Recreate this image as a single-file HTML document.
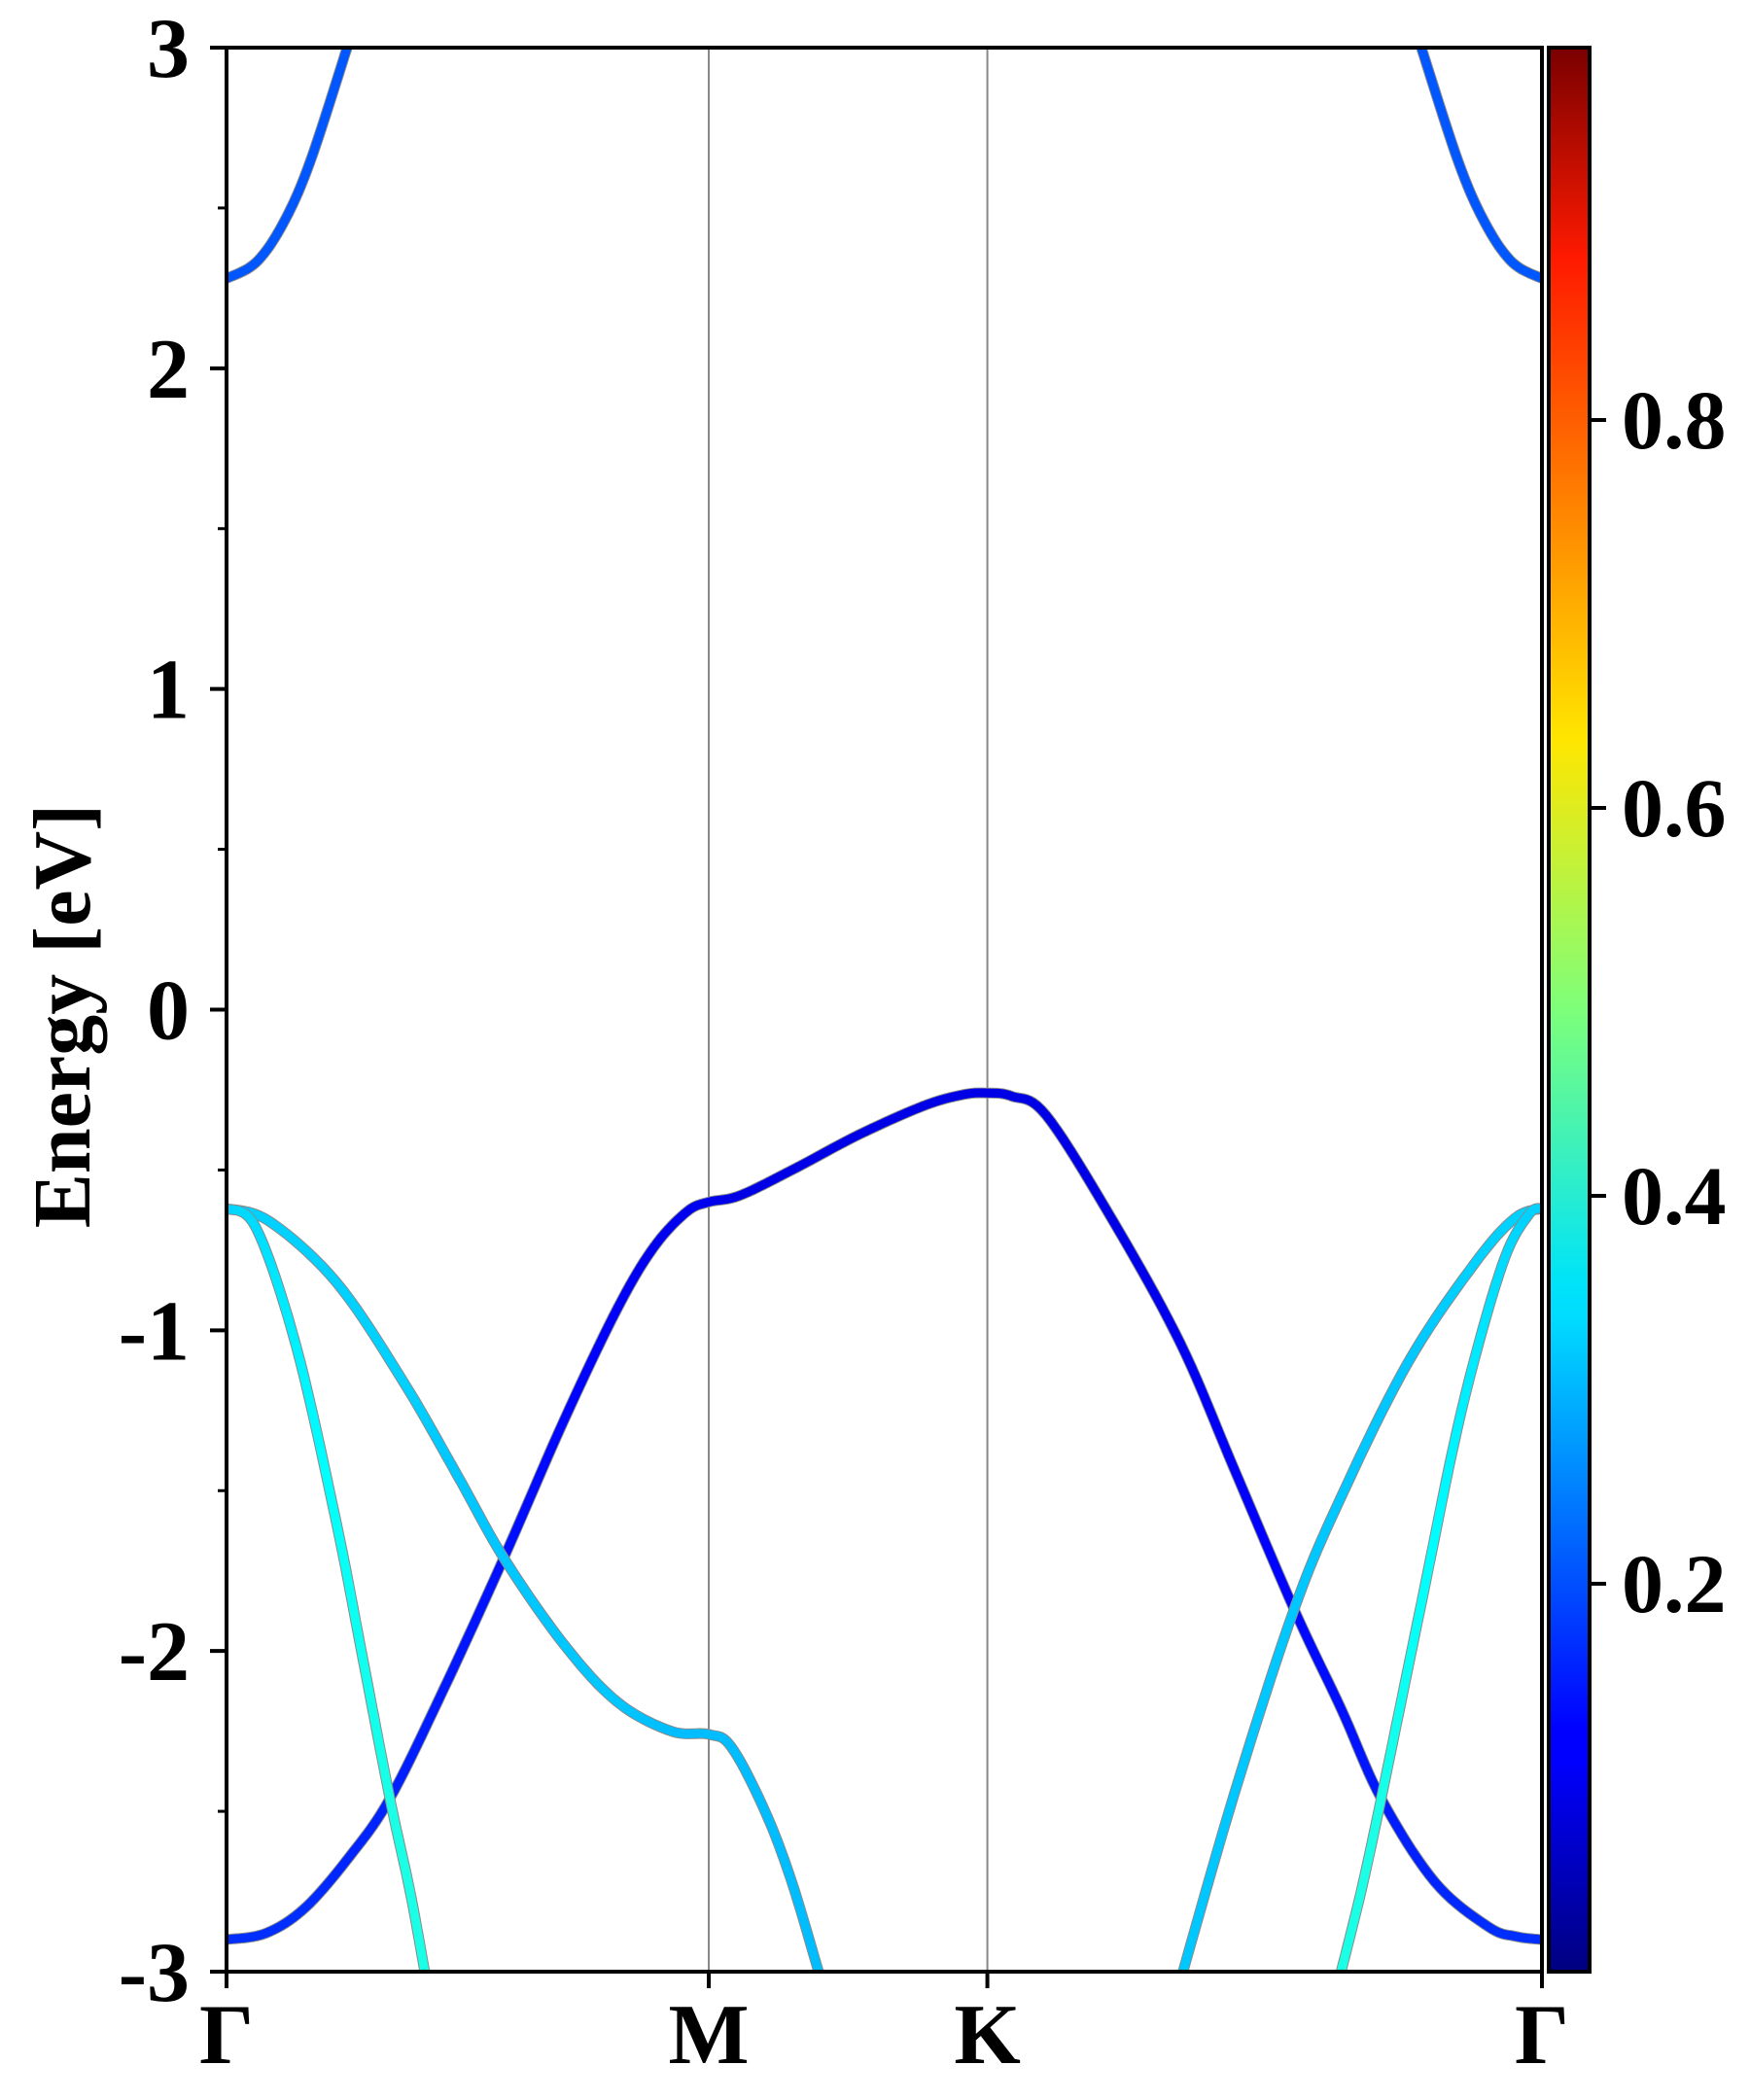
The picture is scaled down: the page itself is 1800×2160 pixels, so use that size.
<!DOCTYPE html>
<html><head><meta charset="utf-8">
<style>
html,body{margin:0;padding:0;background:#fff;}
svg{display:block;}
text{font-family:"Liberation Serif",serif;font-weight:bold;fill:#000;}
</style></head>
<body>
<svg id="chart" width="1800" height="2160" viewBox="0 0 1800 2160" xmlns="http://www.w3.org/2000/svg">
<defs>
<linearGradient id="jet" x1="0" y1="1" x2="0" y2="0">
<stop offset="0" stop-color="#000080"/>
<stop offset="0.11" stop-color="#0000ff"/>
<stop offset="0.125" stop-color="#0000ff"/>
<stop offset="0.34" stop-color="#00dcff"/>
<stop offset="0.36" stop-color="#00e4f8"/>
<stop offset="0.5" stop-color="#7dff7a"/>
<stop offset="0.64" stop-color="#ffe600"/>
<stop offset="0.89" stop-color="#ff1a00"/>
<stop offset="1" stop-color="#7a0000"/>
</linearGradient>
</defs>
<g id="grid"></g>
<g id="bands"></g>
<g id="axes"></g>
<text transform="translate(92,1045) rotate(-90)" text-anchor="middle" font-size="84">Energy [eV]</text>
<rect x="1593" y="49" width="42" height="1979" fill="url(#jet)" stroke="#000" stroke-width="4"/>
<g id="cbticks"></g>
</svg>
<script>
// k as fraction of full path Γ-M-K-Γ, energies in eV, values = projection weight
const kTicks = [0, 0.3666, 0.5784, 1];
const kLabels = ["Γ", "M", "K", "Γ"];
const yTicks = [-3, -2, -1, 0, 1, 2, 3];
const yMinor = [-2.5, -1.5, -0.5, 0.5, 1.5, 2.5];
const cbTicks = [0.2, 0.4, 0.6, 0.8];

const bandA_k = [0, .0300, .0600, .0937, .1242, .1650, .2108, .2566, .2974, .3250, .3500, .3666, .3900, .4300, .4807, .5300, .5600, .5784, .5970, .6232, .6741, .7251, .7658, .8116, .8473, .8778, .9185, .9593, .9800, 1];
const bandA_E = [-2.9, -2.88, -2.80, -2.64, -2.46, -2.12, -1.71, -1.28, -0.93, -0.74, -0.63, -0.60, -0.58, -0.50, -0.39, -0.30, -0.265, -0.26, -0.27, -0.33, -0.66, -1.04, -1.43, -1.87, -2.18, -2.46, -2.72, -2.86, -2.89, -2.9];
const bandA_v = [0.17, 0.17, 0.17, 0.16, 0.16, 0.15, 0.14, 0.13, 0.12, 0.11, 0.11, 0.11, 0.1, 0.1, 0.1, 0.1, 0.1, 0.1, 0.1, 0.1, 0.1, 0.11, 0.12, 0.13, 0.14, 0.15, 0.16, 0.17, 0.17, 0.17];

const bandBL_k = [0, .0326, .0835, .1344, .1752, .2108, .2566, .2974, .3381, .3666, .3839, .4094, .4297, .4501];
const bandBL_E = [-0.62, -0.66, -0.85, -1.16, -1.45, -1.71, -1.98, -2.16, -2.25, -2.26, -2.30, -2.50, -2.72, -3.0];
const bandBL_v = [0.33, 0.33, 0.33, 0.33, 0.32, 0.32, 0.32, 0.32, 0.31, 0.31, 0.31, 0.31, 0.31, 0.31];

const bandBR_k = [.7271, .7658, .8116, .8473, .8982, .9491, .9796, 1];
const bandBR_E = [-3.0, -2.45, -1.87, -1.52, -1.10, -0.79, -0.65, -0.62];
const bandBR_v = [0.32, 0.32, 0.32, 0.32, 0.32, 0.33, 0.33, 0.33];

const bandCL_k = [0, .0224, .0530, .0835, .1039, .1242, .1395, .1507];
const bandCL_E = [-0.62, -0.68, -1.05, -1.60, -2.03, -2.46, -2.75, -3.0];
const bandCL_v = [0.33, 0.34, 0.36, 0.38, 0.39, 0.40, 0.40, 0.40];

const bandCR_k = [.8473, .8625, .8778, .9084, .9389, .9695, .9898, 1];
const bandCR_E = [-3.0, -2.75, -2.46, -1.85, -1.25, -0.80, -0.64, -0.62];
const bandCR_v = [0.40, 0.40, 0.40, 0.38, 0.36, 0.34, 0.33, 0.33];

const bandDL_k = [0, .0224, .0428, .0632, .0917];
const bandDL_E = [2.28, 2.33, 2.45, 2.64, 3.0];
const bandDL_v = [0.21, 0.21, 0.21, 0.21, 0.21];

const bandDR_k = [.9083, .9368, .9572, .9776, 1];
const bandDR_E = [3.0, 2.64, 2.45, 2.33, 2.28];
const bandDR_v = [0.21, 0.21, 0.21, 0.21, 0.21];

const X0 = 233, X1 = 1586, Y0 = 49, Y1 = 2028;
const xs = k => X0 + k * (X1 - X0);
const ys = e => Y1 - (e + 3) / 6 * (Y1 - Y0);
const cs = v => 2028 - v * 1995;
const NS = "http://www.w3.org/2000/svg";
function mk(tag, attrs, parent) {
  const el = document.createElementNS(NS, tag);
  for (const a in attrs) el.setAttribute(a, attrs[a]);
  parent.appendChild(el);
  return el;
}
function jet(v) {
  const c = x => Math.max(0, Math.min(1, x));
  const r = c(1.5 - Math.abs(4 * v - 3)), g = c(1.5 - Math.abs(4 * v - 2)), b = c(1.5 - Math.abs(4 * v - 1));
  return `rgb(${Math.round(r * 255)},${Math.round(g * 255)},${Math.round(b * 255)})`;
}
function cr(p0, p1, p2, p3, t) {
  const t2 = t * t, t3 = t2 * t;
  return 0.5 * ((2 * p1) + (-p0 + p2) * t + (2 * p0 - 5 * p1 + 4 * p2 - p3) * t2 + (-p0 + 3 * p1 - 3 * p2 + p3) * t3);
}
const grid = document.getElementById('grid');
[kTicks[1], kTicks[2]].forEach(k => {
  const l = mk('line', {x1: xs(k), x2: xs(k), y1: Y0, y2: Y1, stroke: '#888', 'stroke-width': 2}, grid);
  
  
});
const bandsG = document.getElementById('bands');
function drawBand(K, E, V, name) {
  const g = mk('g', {}, bandsG);
  
  
  const pts = [];
  const n = K.length;
  for (let i = 0; i < n - 1; i++) {
    const i0 = Math.max(0, i - 1), i3 = Math.min(n - 1, i + 2);
    for (let s = 0; s < 10; s++) {
      const t = s / 10;
      pts.push([xs(cr(K[i0], K[i], K[i + 1], K[i3], t)), ys(cr(E[i0], E[i], E[i + 1], E[i3], t)), V[i] + (V[i + 1] - V[i]) * t]);
    }
  }
  pts.push([xs(K[n - 1]), ys(E[n - 1]), V[n - 1]]);
  const d = pts.map((p, i) => (i ? 'L' : 'M') + p[0].toFixed(1) + ',' + p[1].toFixed(1)).join('');
  mk('path', {d: d, fill: 'none', stroke: '#8a8a8a', 'stroke-width': 11, 'stroke-linejoin': 'round'}, g);
  for (let i = 0; i < pts.length - 1; i++) {
    mk('line', {x1: pts[i][0], y1: pts[i][1], x2: pts[i + 1][0], y2: pts[i + 1][1], stroke: jet((pts[i][2] + pts[i + 1][2]) / 2), 'stroke-width': 9, 'stroke-linecap': 'round'}, g);
  }
}
const clip = mk('clipPath', {id: 'pc'}, document.querySelector('defs'));
mk('rect', {x: X0, y: Y0, width: X1 - X0, height: Y1 - Y0}, clip);
bandsG.setAttribute('clip-path', 'url(#pc)');
drawBand(bandA_k, bandA_E, bandA_v, 'band-valence-top');
drawBand(bandBL_k, bandBL_E, bandBL_v, 'band-b-left');
drawBand(bandBR_k, bandBR_E, bandBR_v, 'band-b-right');
drawBand(bandCL_k, bandCL_E, bandCL_v, 'band-c-left');
drawBand(bandCR_k, bandCR_E, bandCR_v, 'band-c-right');
drawBand(bandDL_k, bandDL_E, bandDL_v, 'band-conduction-left');
drawBand(bandDR_k, bandDR_E, bandDR_v, 'band-conduction-right');

const axes = document.getElementById('axes');
const frame = mk('rect', {x: X0, y: Y0, width: X1 - X0, height: Y1 - Y0, fill: 'none', stroke: '#000', 'stroke-width': 4}, axes);


yTicks.forEach(t => {
  mk('line', {x1: X0 - 17, x2: X0, y1: ys(t), y2: ys(t), stroke: '#000', 'stroke-width': 4}, axes);
  const tx = mk('text', {x: 195, y: ys(t) + 30, 'text-anchor': 'end', 'font-size': 88}, axes);
  tx.textContent = String(t);
  
  
});
yMinor.forEach(t => {
  mk('line', {x1: X0 - 9, x2: X0, y1: ys(t), y2: ys(t), stroke: '#000', 'stroke-width': 3}, axes);
});
kTicks.forEach((k, i) => {
  mk('line', {x1: xs(k), x2: xs(k), y1: Y1, y2: Y1 + 17, stroke: '#000', 'stroke-width': 4}, axes);
  const tx = mk('text', {x: xs(k), y: 2122, 'text-anchor': 'middle', 'font-size': 88}, axes);
  tx.textContent = kLabels[i];
  
  
});
const cbg = document.getElementById('cbticks');
cbTicks.forEach(v => {
  mk('line', {x1: 1635, x2: 1652, y1: cs(v), y2: cs(v), stroke: '#000', 'stroke-width': 4}, cbg);
  const tx = mk('text', {x: 1668, y: cs(v) + 29, 'font-size': 86}, cbg);
  tx.textContent = v.toFixed(1);
  
  
});
</script>
</body></html>
